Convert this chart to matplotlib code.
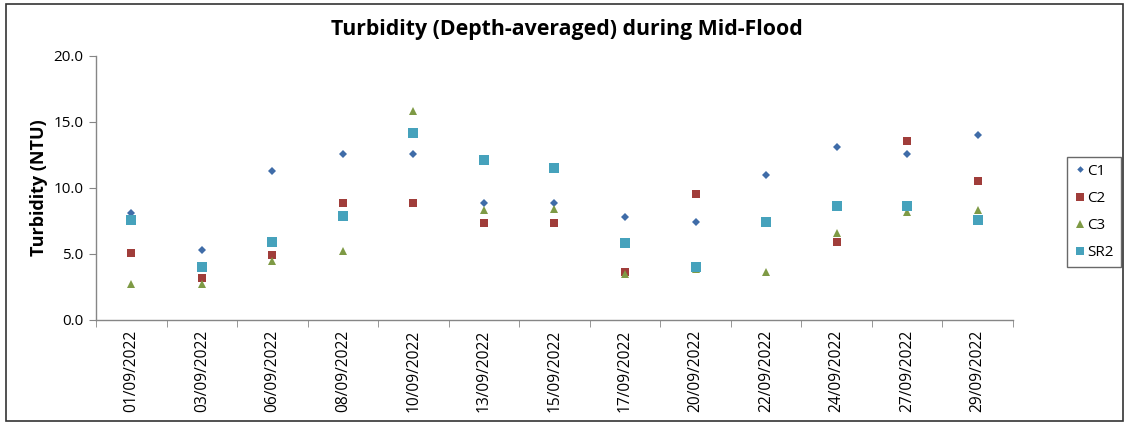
import matplotlib
matplotlib.use("Agg")
import matplotlib.pyplot as plt
import matplotlib.patches as patches
import numpy as np

# 数据
dates = ["01/09/2022", "03/09/2022", "06/09/2022", "08/09/2022", "10/09/2022",
         "13/09/2022", "15/09/2022", "17/09/2022", "20/09/2022", "22/09/2022",
         "24/09/2022", "27/09/2022", "29/09/2022"]
c1 = [8.1, 5.3, 11.3, 12.6, 12.6, 8.9, 8.9, 7.8, 7.4, 11.0, 13.1, 12.6, 14.0]
c2 = [5.1, 3.2, 4.9, 8.9, 8.9, 7.35, 7.35, 3.6, 9.55, 7.5, 5.9, 13.55, 10.5]
c3 = [2.75, 2.75, 4.5, 5.2, 15.8, 8.3, 8.4, 3.5, 3.85, 3.6, 6.6, 8.2, 8.3]
sr2 = [7.6, 4.0, 5.9, 7.9, 14.2, 12.1, 11.5, 5.8, 4.0, 7.4, 8.6, 8.6, 7.6]

series = [
    ("C1", c1, "D", "#3F6CA8", 3.9),
    ("C2", c2, "s", "#A03D3A", 6.3),
    ("C3", c3, "^", "#7E9A45", 6.0),
    ("SR2", sr2, "s", "#46A2BC", 6.8),
]

plt.rcParams['font.family'] = ['Open Sans', 'DejaVu Sans']

fig = plt.figure(figsize=(11.24, 4.24), dpi=100)
ax = fig.add_axes([0.0854, 0.2453, 0.8158, 0.6227])

x = np.arange(len(dates))
for name, vals, mk, col, ms in series:
    ax.plot(x, vals, linestyle='none', marker=mk, color=col, markersize=ms,
            markeredgewidth=0, label=name)

ax.set_xlim(-0.5, len(dates) - 0.5)
ax.set_ylim(0, 20)
ax.set_yticks(np.arange(0, 20.1, 5))
ax.set_yticklabels([f"{v:.1f}" for v in np.arange(0, 20.1, 5)], fontsize=11)

ax.set_xticks(x)
ax.set_xticklabels(dates, rotation=90, fontsize=11.2)
ax.set_xticks(np.arange(-0.5, len(dates), 1), minor=True)
ax.tick_params(axis='x', which='major', length=0, pad=7)
ax.tick_params(axis='x', which='minor', length=5, color='#868686', direction='out')
ax.tick_params(axis='y', length=5, color='#868686', direction='out', pad=4)

for s in ['top', 'right']:
    ax.spines[s].set_visible(False)
for s in ['left', 'bottom']:
    ax.spines[s].set_color('#868686')
    ax.spines[s].set_linewidth(1.0)

ax.set_ylabel("Turbidity (NTU)", fontsize=13, fontweight='bold', labelpad=4)
fig.text(0.504, 0.93, "Turbidity (Depth-averaged) during Mid-Flood",
         ha='center', va='center', fontsize=15.3, fontweight='bold')

leg = ax.legend(loc='center left', bbox_to_anchor=(1067 / 1124, (424 - 212) / 424),
                bbox_transform=fig.transFigure, frameon=True,
                fancybox=False, fontsize=11, handletextpad=0.1, handlelength=0.8,
                borderpad=0.45, labelspacing=0.8, borderaxespad=0, markerscale=0.85)
leg.get_frame().set_edgecolor('#444444')
leg.get_frame().set_linewidth(1.0)

# 外边框
border = patches.Rectangle((6 / 1124, 3 / 424), 1117 / 1124, 417 / 424,
                           transform=fig.transFigure, fill=False,
                           edgecolor='#333333', linewidth=1.2)
fig.patches.append(border)

fig.savefig("out.png", dpi=100)
